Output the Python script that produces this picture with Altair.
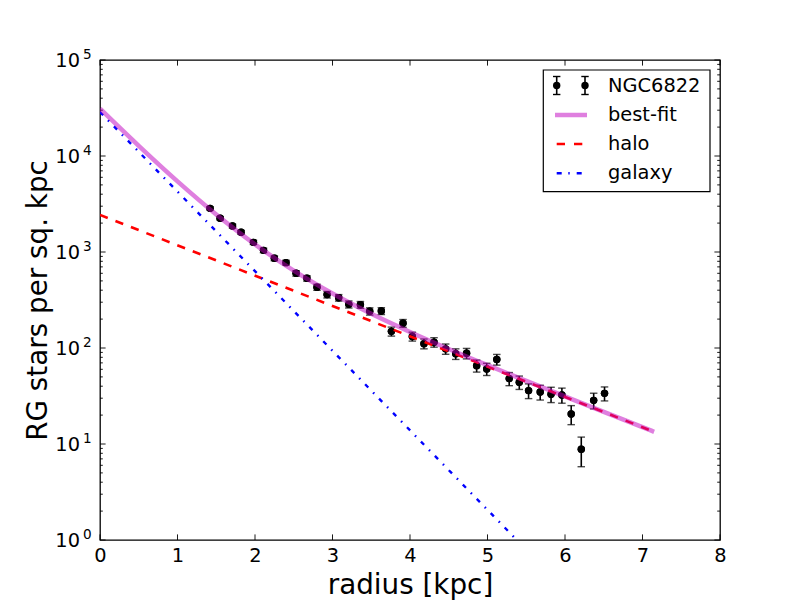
import altair as alt
import pandas as pd

# ---- data ----
radius = [1.42, 1.55, 1.71, 1.82, 1.98, 2.11, 2.25, 2.40, 2.53, 2.67, 2.80, 2.93,
          3.08, 3.21, 3.36, 3.48, 3.63, 3.76, 3.91, 4.03, 4.18, 4.31, 4.46, 4.59,
          4.73, 4.86, 4.99, 5.12, 5.28, 5.41, 5.53, 5.68, 5.82, 5.96, 6.08, 6.21,
          6.37, 6.51]
density = [2850, 2245, 1865, 1605, 1260, 1040, 860, 775, 600, 532, 430, 360,
           334, 285, 282, 241, 243, 149, 181, 132, 111, 115, 98, 87,
           88, 65.5, 60.5, 76, 48, 44, 36, 34.8, 33, 32.4, 20.5, 8.8,
           28.5, 33.7]
density_err = [112, 95, 83, 75, 63, 56, 49, 45, 39, 35, 31, 28,
               26, 24, 23, 21, 20, 16, 17, 14, 13, 13, 12, 11,
               11, 9.4, 8.8, 9.7, 7.5, 7.0, 6.3, 6.1, 6.0, 5.8, 4.6, 3.0,
               5.3, 5.6]

fit_r = [0, 0.5, 1.0, 1.5, 2.0, 2.5, 3.0, 3.5, 4.0, 4.5, 5.0, 5.5, 6.0, 6.5, 7.15]
fit_v = [31100, 12750, 5435, 2457, 1200, 639, 369, 227, 147, 97.7, 66.2, 45.4, 31.3, 21.6, 13.4]

halo_r = [0, 7.15]
halo_v = [2432, 13.4]

galaxy_r = [0, 7.15]
galaxy_v = [28710, 0.034]

x_ticks = [0, 1, 2, 3, 4, 5, 6, 7, 8]
y_major = [1, 10, 100, 1000, 10000, 100000]
y_exponent = ["0", "1", "2", "3", "4", "5"]
y_minor = [2, 3, 4, 5, 6, 7, 8, 9,
           20, 30, 40, 50, 60, 70, 80, 90,
           200, 300, 400, 500, 600, 700, 800, 900,
           2000, 3000, 4000, 5000, 6000, 7000, 8000, 9000,
           20000, 30000, 40000, 50000, 60000, 70000, 80000, 90000]

legend_labels = ["NGC6822", "best-fit", "halo", "galaxy"]

# ---- tables ----
pts = pd.DataFrame({"r": radius, "v": density, "e": density_err})
pts["lo"] = pts["v"] - pts["e"]
pts["hi"] = pts["v"] + pts["e"]
fit = pd.DataFrame({"r": fit_r, "v": fit_v})
halo = pd.DataFrame({"r": halo_r, "v": halo_v})
galaxy = pd.DataFrame({"r": galaxy_r, "v": galaxy_v})
xt = pd.DataFrame({"r": x_ticks})
ymaj = pd.DataFrame({"v": y_major, "ex": y_exponent, "base": ["10"] * len(y_major)})
ymin = pd.DataFrame({"v": y_minor})

W, H = 620, 480
FONT = "DejaVu Sans"
xs = alt.Scale(domain=[0, 8], nice=False, zero=False)
ys = alt.Scale(type="log", domain=[1, 100000], nice=False)
one = alt.Data(values=[{"a": 1}])

AX = alt.Axis(
    values=x_ticks, format="d", ticks=False, domain=False, grid=False,
    labelFont=FONT, labelFontSize=19.4, labelPadding=6, labelColor="black",
    labelFlush=False, labelOverlap=False,
    title="radius [kpc]", titleFont=FONT, titleFontSize=27.8,
    titleFontWeight="normal", titlePadding=7, titleColor="black")
AY = alt.Axis(
    values=y_major, labels=False, ticks=False, domain=False, grid=False,
    title="RG stars per sq. kpc", titleFont=FONT, titleFontSize=27.8,
    titleFontWeight="normal", titlePadding=48, titleColor="black")


def X(f="r"):
    return alt.X(f + ":Q", scale=xs, axis=AX)


def Y(f="v"):
    return alt.Y(f + ":Q", scale=ys, axis=AY)


layers = []

# points first (carry the axes)
layers.append(alt.Chart(pts).mark_circle(color="black", size=55, opacity=1).encode(
    x=X(), y=Y()))

# y tick labels: "10" with raised exponent
layers.append(alt.Chart(ymaj).mark_text(font=FONT, fontSize=19.4, align="right",
                                        baseline="middle", dy=1, color="black").encode(
    y=Y(), x=alt.value(-20), text="base:N"))
layers.append(alt.Chart(ymaj).mark_text(font=FONT, fontSize=13.6, align="left",
                                        baseline="middle", dy=-5, color="black").encode(
    y=Y(), x=alt.value(-17), text="ex:N"))

# tick marks (inward, all four sides)
TM, Tm = 5.6, 2.8
layers.append(alt.Chart(xt).mark_rule(color="black", strokeWidth=0.9).encode(
    x=X(), y=alt.value(H), y2=alt.value(H - TM)))
layers.append(alt.Chart(xt).mark_rule(color="black", strokeWidth=0.9).encode(
    x=X(), y=alt.value(0), y2=alt.value(TM)))
layers.append(alt.Chart(ymaj).mark_rule(color="black", strokeWidth=0.9).encode(
    y=Y(), x=alt.value(0), x2=alt.value(TM)))
layers.append(alt.Chart(ymaj).mark_rule(color="black", strokeWidth=0.9).encode(
    y=Y(), x=alt.value(W), x2=alt.value(W - TM)))
layers.append(alt.Chart(ymin).mark_rule(color="black", strokeWidth=0.9).encode(
    y=Y(), x=alt.value(0), x2=alt.value(Tm)))
layers.append(alt.Chart(ymin).mark_rule(color="black", strokeWidth=0.9).encode(
    y=Y(), x=alt.value(W), x2=alt.value(W - Tm)))

# error bars
layers.append(alt.Chart(pts).mark_rule(color="black", strokeWidth=1.6).encode(
    x=X(), y=Y("lo"), y2="hi:Q"))
layers.append(alt.Chart(pts).mark_tick(color="black", orient="horizontal",
                                       size=7.5, thickness=1.4).encode(
    x=X(), y=Y("lo")))
layers.append(alt.Chart(pts).mark_tick(color="black", orient="horizontal",
                                       size=7.5, thickness=1.4).encode(
    x=X(), y=Y("hi")))
layers.append(alt.Chart(pts).mark_circle(color="black", size=55, opacity=1).encode(
    x=X(), y=Y()))

# model lines
layers.append(alt.Chart(halo).mark_line(color="red", strokeWidth=2.6,
                                        strokeDash=[8.3, 8.3], clip=True).encode(x=X(), y=Y()))
layers.append(alt.Chart(galaxy).mark_line(color="blue", strokeWidth=2.4,
                                          strokeDash=[4.5, 7, 1.5, 7], clip=True).encode(x=X(), y=Y()))
layers.append(alt.Chart(fit).mark_line(color="#BF00BF", opacity=0.5, strokeWidth=4.5,
                                       interpolate="monotone", clip=True).encode(x=X(), y=Y()))

# legend
LX0, LX1, LY0, LY1 = 443.3, 610, 10, 131.7
layers.append(alt.Chart(one).mark_rect(fill="white", stroke="black", strokeWidth=1.2).encode(
    x=alt.value(LX0), x2=alt.value(LX1), y=alt.value(LY0), y2=alt.value(LY1)))
for mx in (456.7, 485):
    layers.append(alt.Chart(one).mark_rule(color="black", strokeWidth=1.6).encode(
        x=alt.value(mx), y=alt.value(16.5), y2=alt.value(34.5)))
    for cy in (16.5, 34.5):
        layers.append(alt.Chart(one).mark_rule(color="black", strokeWidth=1.4).encode(
            x=alt.value(mx - 3.7), x2=alt.value(mx + 3.7), y=alt.value(cy)))
    layers.append(alt.Chart(one).mark_circle(color="black", size=55, opacity=1).encode(
        x=alt.value(mx), y=alt.value(25.5)))
layers.append(alt.Chart(one).mark_rule(color="#BF00BF", opacity=0.5, strokeWidth=4.5).encode(
    x=alt.value(455), x2=alt.value(487), y=alt.value(55)))
layers.append(alt.Chart(one).mark_rule(color="red", strokeWidth=2.6, strokeDash=[8.3, 9]).encode(
    x=alt.value(456.7), x2=alt.value(486), y=alt.value(84)))
layers.append(alt.Chart(one).mark_rule(color="blue", strokeWidth=2.4,
                                       strokeDash=[5, 6.6, 1.4, 7]).encode(
    x=alt.value(456.7), x2=alt.value(486), y=alt.value(113.3)))
for lab, ty in zip(legend_labels, [26, 55, 84, 113]):
    layers.append(alt.Chart(one).mark_text(text=lab, font=FONT, fontSize=19.4,
                                           align="left", baseline="middle",
                                           color="black").encode(
        x=alt.value(508), y=alt.value(ty)))

chart = alt.layer(*layers).properties(
    width=W, height=H,
    autosize=alt.AutoSizeParams(type="none"),
    padding={"left": 92, "top": 52, "right": 72, "bottom": 60},
    background="white",
).configure_view(stroke="black", strokeWidth=1.3)

chart.save("out.html", embed_options={"renderer": "svg", "actions": False})
